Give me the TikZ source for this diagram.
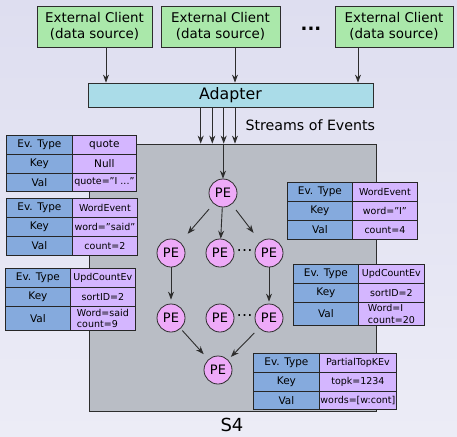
\documentclass[tikz,border=0pt]{standalone}
\usepackage{fontspec}
\setmainfont{DejaVu Sans}
\usetikzlibrary{arrows.meta}

\definecolor{bgtop}{RGB}{222,222,240}
\definecolor{bgbot}{RGB}{236,236,246}
\definecolor{clientfill}{RGB}{170,232,170}
\definecolor{adapterfill}{RGB}{170,220,232}
\definecolor{s4fill}{RGB}{185,189,197}
\definecolor{keyfill}{RGB}{133,170,221}
\definecolor{valfill}{RGB}{212,182,255}
\definecolor{pefill}{RGB}{238,170,248}
\definecolor{linec}{RGB}{45,45,45}

% straight double quote, kept out of the TeX ligature mapping
\newcommand\dq{\char"22\relax}

\tikzset{
  client/.style={draw=linec, line width=0.8pt, fill=clientfill, minimum width=#1,
    minimum height=41pt, inner sep=0pt, align=center, font=\fontsize{13.4}{16.5}\selectfont},
  keycell/.style={draw=black!85, line width=0.8pt, fill=keyfill, anchor=north west,
    inner sep=0pt, font=\fontsize{10.5}{12}\selectfont},
  valcell/.style={draw=black!85, line width=0.8pt, fill=valfill, anchor=north west,
    inner sep=0pt, align=left, font=\fontsize{9.5}{11.5}\selectfont},
  penode/.style={circle, draw=linec, line width=0.8pt, fill=pefill, minimum size=28pt,
    inner sep=0pt, font=\fontsize{13}{13}\selectfont},
  pedots/.style={inner sep=0pt, font=\fontsize{16}{16}\selectfont},
  arr/.style={draw=linec, line width=0.9pt, -{Stealth[length=8pt,width=6pt]}},
}

% event table: name, left x, split x, right x, top y, value-row height, type, key, value
\newcommand\evtab[9]{%
  \pgfmathsetmacro\wa{#3-#2}%
  \pgfmathsetmacro\wb{#4-#3}%
  \pgfmathsetmacro\yb{#5+19}%
  \pgfmathsetmacro\yc{#5+38}%
  \node[keycell, minimum width=\wa pt, minimum height=19pt] (#1-tk) at (#2,#5) {Ev. Type};
  \node[valcell, minimum width=\wb pt, minimum height=19pt] (#1-tv) at (#3,#5) {#7};
  \node[keycell, minimum width=\wa pt, minimum height=19pt] (#1-kk) at (#2,\yb) {Key};
  \node[valcell, minimum width=\wb pt, minimum height=19pt] (#1-kv) at (#3,\yb) {#8};
  \node[keycell, minimum width=\wa pt, minimum height=#6pt] (#1-vk) at (#2,\yc) {Val};
  \node[valcell, minimum width=\wb pt, minimum height=#6pt] (#1-vv) at (#3,\yc) {#9};
}

\begin{document}
\begin{tikzpicture}[x=1pt, y=-1pt]
\useasboundingbox (0,0) rectangle (457,436);
\shade[top color=bgtop, bottom color=bgbot] (0,0) rectangle (457,436);

% data sources
\node[client=115pt] (c1) at (94.5,26.5) {External Client\\(data source)};
\node[client=119pt] (c2) at (220.5,26.5) {External Client\\(data source)};
\node[client=118pt] (c3) at (394,26.5) {External Client\\(data source)};
\node[font=\fontsize{18}{18}\selectfont\bfseries] (cdots) at (311,29) {...};

% adapter
\node[draw=linec, line width=0.8pt, fill=adapterfill, minimum width=285pt, minimum height=24pt,
  inner sep=0pt, font=\fontsize{15.8}{16}\selectfont] (adapter) at (230.5,95) {Adapter};

% S4 container
\node[draw=linec, line width=0.8pt, fill=s4fill, minimum width=287pt, minimum height=267pt,
  inner sep=0pt] (s4) at (232.5,277.5) {};
\node[font=\fontsize{18}{18}\selectfont] (s4label) at (232,425) {S4};

% client to adapter
\coordinate (a1) at (106,0);
\coordinate (a2) at (235,0);
\coordinate (a3) at (358,0);
\draw[arr] (c1.south -| a1) -- (adapter.north -| a1);
\draw[arr] (c2.south -| a2) -- (adapter.north -| a2);
\draw[arr] (c3.south -| a3) -- (adapter.north -| a3);

% event streams
\coordinate (s1) at (200.7,0);
\coordinate (s2) at (212.3,0);
\coordinate (s3) at (223.7,0);
\coordinate (s5) at (235,0);
\foreach \s in {s1,s2,s3,s5}
  \draw[arr] (adapter.south -| \s) -- (s4.north -| \s);
\node[anchor=west, font=\fontsize{14.2}{15}\selectfont] (streams) at (242,125) {Streams of Events};

% processing elements
\node[penode] (pe0) at (223,193) {PE};
\node[penode] (pe1) at (171,253) {PE};
\node[penode] (pe2) at (220,253) {PE};
\node[penode] (pe3) at (269,253) {PE};
\node[penode] (pe4) at (171,318) {PE};
\node[penode] (pe5) at (220,318) {PE};
\node[penode] (pe6) at (269,318) {PE};
\node[penode] (pe7) at (218,370) {PE};
\node[pedots] (d1) at (244.5,253) {⋯};
\node[pedots] (d2) at (244.5,318) {⋯};

\draw[arr] (s4.north -| pe0) -- (pe0);
\draw[arr, shorten <=7pt, shorten >=11pt] (pe0) -- (pe1);
\draw[arr] (pe0) -- (pe2);
\draw[arr, shorten <=7pt, shorten >=11pt] (pe0) -- (pe3);
\draw[arr, shorten >=4pt] (pe1) -- (pe4);
\draw[arr, shorten >=2pt] (pe3) -- (pe6);
\draw[arr, shorten <=2.5pt, shorten >=7pt] (pe4) -- (pe7);
\draw[arr, shorten <=6.5pt, shorten >=4pt] (pe6) -- (pe7);

% event tables
\evtab{t1}{6}{72}{136}{135}{18}{{\fontsize{10.5}{12}\selectfont quote}}{{\fontsize{10.5}{12}\selectfont Null}}{quote=\dq I ...\dq}
\evtab{t2}{6}{72}{137}{198}{19}{WordEvent}{word=\dq said\dq}{count=2}
\evtab{t3}{5}{70}{135}{268}{24}{UpdCountEv}{sortID=2}{Word=said\\count=9}
\evtab{t4}{287}{352}{417}{182}{19}{WordEvent}{word=\dq I\dq}{count=4}
\evtab{t5}{293}{358}{424}{264}{23}{UpdCountEv}{sortID=2}{Word=I\\count=20}
\evtab{t6}{253}{319}{396}{353}{18}{PartialTopKEv}{topk=1234}{words=[w:cont]}
\end{tikzpicture}
\end{document}
